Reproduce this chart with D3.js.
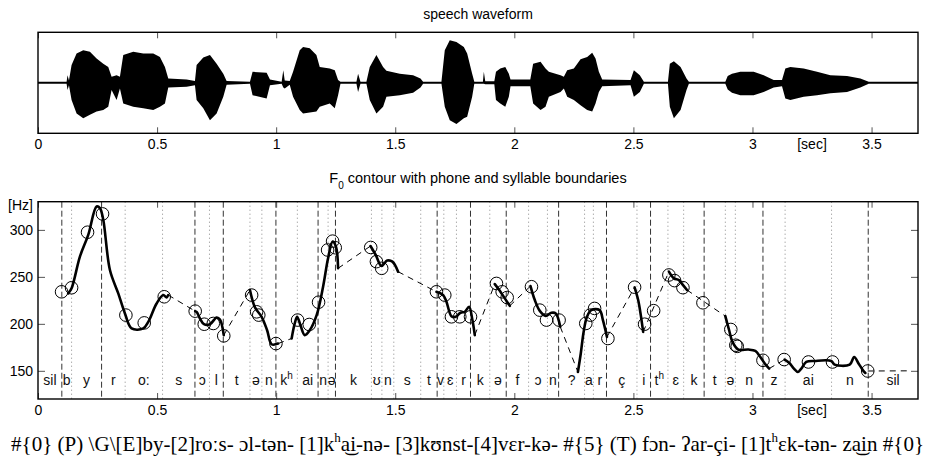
<!DOCTYPE html>
<html>
<head>
  <meta charset="UTF-8">
  <style>
    body { margin: 0; background: #fff; }
    svg { display: block; }
    text { font-family: 'Liberation Sans', Arial, Helvetica, sans-serif; fill: #000; }
    .tick line { stroke: #555; stroke-width: 1px; }
    .tick text { font-size: 14px; }
    .frame { fill: none; stroke: #000; stroke-width: 1.4px; }
    .syl { stroke: #333; stroke-width: 1px; stroke-dasharray: 6 3; }
    .phone { stroke: #888; stroke-width: 1px; stroke-dasharray: 1 3; }
    .voiced { fill: none; stroke: #000; stroke-width: 2.6px; stroke-linejoin: round; stroke-linecap: round; }
    .gap { fill: none; stroke: #000; stroke-width: 1px; stroke-dasharray: 6 5; }
    .target { fill: none; stroke: #000; stroke-width: 1px; }
    .phn { font-size: 14px; fill: #111; }
    .transcr { font-family: 'Liberation Serif', 'Times New Roman', serif; font-size: 21px; }
  </style>
</head>
<body>
<svg id="chart" width="929" height="460"></svg>
<script src="https://d3js.org/d3.v7.min.js"></script>
<script>

// ---- data ----
const xTicks = [0, 0.5, 1, 1.5, 2, 2.5, 3, 3.5];
const xTickLabels = ["0", "0.5", "1", "1.5", "2", "2.5", "3", "3.5"];
const secLabelAt = 3.25;
const hzTicks = [150, 200, 250, 300];
const hzLabelAt = 326;

// waveform envelope: time [s], upper and lower amplitude (normalised)
const wavT  = [0.000,0.120,0.124,0.130,0.141,0.162,0.190,0.218,0.246,0.274,0.295,0.309,0.330,0.344,0.358,0.400,0.442,0.484,0.512,0.533,0.547,0.624,0.659,0.666,0.694,0.722,0.750,0.778,0.792,0.890,0.901,0.960,0.974,1.023,1.030,1.036,1.057,1.071,1.099,1.113,1.141,1.169,1.183,1.225,1.246,1.260,1.270,1.337,1.344,1.354,1.379,1.393,1.421,1.449,1.463,1.519,1.575,1.606,1.617,1.694,1.708,1.729,1.757,1.788,1.802,1.823,1.832,1.868,1.872,1.878,1.916,1.923,1.941,1.962,1.977,1.984,2.067,2.079,2.110,2.131,2.145,2.194,2.208,2.222,2.250,2.278,2.306,2.327,2.341,2.355,2.369,2.488,2.502,2.527,2.544,2.645,2.653,2.670,2.698,2.723,2.733,2.886,2.896,2.914,2.949,3.005,3.047,3.089,3.124,3.138,3.159,3.215,3.271,3.327,3.397,3.453,3.488,3.695];
const wavUp = [0.02,0.02,0.16,0.05,0.37,0.61,0.68,0.65,0.51,0.40,0.33,0.125,0.16,0.125,0.58,0.65,0.61,0.61,0.54,0.33,0.09,0.07,0.04,0.37,0.53,0.58,0.40,0.19,0.04,0.02,0.23,0.21,0.07,0.02,0.26,0.05,0.04,0.23,0.68,0.75,0.72,0.58,0.33,0.30,0.26,0.06,0.02,0.02,0.19,0.02,0.02,0.33,0.58,0.33,0.25,0.19,0.16,0.09,0.02,0.02,0.68,0.89,0.85,0.75,0.61,0.19,0.02,0.02,0.23,0.03,0.03,0.23,0.30,0.33,0.19,0.07,0.07,0.40,0.44,0.30,0.23,0.16,0.125,0.26,0.30,0.49,0.54,0.63,0.51,0.23,0.07,0.06,0.26,0.16,0.02,0.02,0.40,0.45,0.33,0.09,0.02,0.02,0.14,0.19,0.23,0.23,0.16,0.06,0.06,0.30,0.33,0.30,0.23,0.16,0.14,0.09,0.02,0.02];
const wavLo = [-0.02,-0.02,-0.15,-0.05,-0.36,-0.64,-0.74,-0.67,-0.60,-0.57,-0.50,-0.15,-0.36,-0.12,-0.43,-0.50,-0.53,-0.57,-0.50,-0.43,-0.10,-0.08,-0.05,-0.36,-0.53,-0.78,-0.64,-0.29,-0.04,-0.02,-0.26,-0.33,-0.05,-0.02,-0.10,-0.12,-0.04,-0.29,-0.57,-0.64,-0.62,-0.60,-0.50,-0.43,-0.53,-0.26,-0.02,-0.02,-0.19,-0.02,-0.02,-0.36,-0.64,-0.50,-0.29,-0.26,-0.21,-0.10,-0.02,-0.02,-0.50,-0.78,-0.86,-0.74,-0.71,-0.29,-0.02,-0.02,-0.02,-0.03,-0.03,-0.36,-0.43,-0.50,-0.29,-0.07,-0.07,-0.43,-0.57,-0.50,-0.29,-0.19,-0.12,-0.29,-0.36,-0.47,-0.57,-0.60,-0.43,-0.19,-0.07,-0.05,-0.29,-0.19,-0.02,-0.02,-0.50,-0.74,-0.57,-0.15,-0.02,-0.02,-0.14,-0.21,-0.26,-0.26,-0.19,-0.10,-0.07,-0.33,-0.36,-0.29,-0.26,-0.22,-0.19,-0.10,-0.02,-0.02];

// syllable boundaries (dashed) and other phone boundaries (dotted), seconds
const syllableBounds = [0.100,0.267,0.659,0.778,0.999,1.176,1.249,1.676,1.816,1.966,2.186,2.387,2.572,2.797,3.044,3.486];
const phoneBounds = [0.141,0.366,0.523,0.720,0.890,0.940,1.089,1.218,1.400,1.444,1.494,1.607,1.704,1.757,1.897,2.060,2.139,2.295,2.332,2.515,2.645,2.711,2.886,2.928,3.137,3.332];
const phones = ["sil","b","y","r","o:","s","ɔ","l","t","ə","n","kʰ","ai","n","ə","k","ʊ","n","s","t","v","ɛ","r","k","ə","f","ɔ","n","?","a","r","ç","i","tʰ","ɛ","k","t","ə","n","z","ai","n","sil"];

// voiced F0 stretches [s, Hz]
const f0Voiced = [
  [[0.127,232.4],[0.141,237.8],[0.176,271.5],[0.211,294.7],[0.246,324.9],[0.260,323.2],[0.274,310.7],[0.302,257.3],[0.337,232.4],[0.365,211.1],[0.393,195.1],[0.442,195.1],[0.463,202.1],[0.498,221.7],[0.526,230.6],[0.540,228.2],[0.547,230.6]],
  [[0.660,213.5],[0.666,212.8],[0.680,205.7],[0.697,199.6],[0.722,199.6],[0.750,206.8],[0.764,204.6],[0.780,188.0]],
  [[0.890,236.0],[0.911,217.5],[0.939,207.5],[0.962,193.2],[0.981,178.3],[1.008,179.0]],
  [[1.065,184.4],[1.078,200.4],[1.088,207.5],[1.102,198.6],[1.120,188.0],[1.141,193.2],[1.170,209.3],[1.197,239.5],[1.218,269.8],[1.237,287.5],[1.251,282.2],[1.260,259.1]],
  [[1.396,282.8],[1.418,273.3],[1.442,261.6],[1.466,267.3],[1.488,266.2],[1.512,255.5]],
  [[1.673,234.1],[1.701,230.6],[1.715,223.5],[1.736,208.2],[1.754,207.5],[1.774,211.8],[1.792,212.8],[1.810,218.1],[1.824,204.0],[1.834,188.0]],
  [[1.918,242.3],[1.939,235.2],[1.960,227.1],[1.981,219.2]],
  [[2.068,240.2],[2.086,225.3],[2.107,213.8],[2.132,208.5],[2.156,211.8],[2.174,211.1],[2.193,196.8]],
  [[2.267,148.8],[2.279,168.4],[2.291,191.4],[2.305,207.5],[2.323,214.6],[2.358,214.6],[2.372,204.0],[2.389,186.1]],
  [[2.505,238.8],[2.520,225.3],[2.531,209.3],[2.541,191.4]],
  [[2.649,255.5],[2.670,248.4],[2.691,246.6],[2.705,242.3],[2.725,236.0]],
  [[2.886,208.2],[2.902,193.2],[2.916,180.8],[2.941,172.6],[2.983,172.6],[3.012,171.1],[3.033,164.7],[3.054,157.0],[3.070,152.4]],
  [[3.135,162.0],[3.155,158.3],[3.174,152.4],[3.191,148.8],[3.205,152.4],[3.226,159.4],[3.261,160.5],[3.331,160.5],[3.345,156.6],[3.408,156.6],[3.427,164.7],[3.446,157.6],[3.464,150.5],[3.474,147.7]]
];
const f0Tail = [[3.484,149.8],[3.668,150.0]];

// target points (circles) [s, Hz]
const targets = [[0.099,234.1],[0.141,238.4],[0.208,297.5],[0.271,317.0],[0.369,209.3],[0.446,201.0],[0.530,228.8],[0.660,213.5],[0.698,199.6],[0.736,200.4],[0.780,187.2],[0.897,230.6],[0.918,212.8],[0.927,209.3],[0.999,179.0],[1.090,204.0],[1.139,199.3],[1.178,223.0],[1.216,278.6],[1.237,288.0],[1.248,281.0],[1.397,281.3],[1.421,266.2],[1.443,259.1],[1.673,234.1],[1.708,230.6],[1.736,207.5],[1.771,207.5],[1.816,207.5],[1.925,243.0],[1.949,234.1],[1.970,228.0],[2.072,239.5],[2.107,214.6],[2.135,204.0],[2.188,204.0],[2.300,200.4],[2.319,209.3],[2.337,216.4],[2.393,184.4],[2.505,239.0],[2.547,199.6],[2.585,214.0],[2.649,252.0],[2.673,246.0],[2.708,238.5],[2.792,222.4],[2.909,194.0],[2.930,177.2],[2.936,176.0],[3.044,161.2],[3.133,162.0],[3.235,159.4],[3.336,159.4],[3.484,149.8]];

const transcription = "#{0} (P) \\G\\[E]by-[2]roːs- ɔl-tən- [1]kʰa͜i-nə- [3]kʊnst-[4]vɛr-kə- #{5} (T) fɔn- ʔar-çi- [1]tʰɛk-tən- za͜in #{0}";

// ---- layout ----
const svg = d3.select("#chart");
const left = 38, right = 918;
const top1 = 32.3, bot1 = 133.3;
const top2 = 201.7, bot2 = 399;

let x = d3.scaleLinear().domain([0, 3.695]).range([left, right]);
let yWav = d3.scaleLinear().domain([-1.055, 1.055]).range([bot1, top1]);
let yHz = d3.scaleLinear().domain([120, 330]).range([bot2, top2]);

// writes a label, turning "ʰ" into a raised h (rise in px)
function addLabel(sel, str, supSize, rise) {
  str.split("ʰ").forEach((part, i) => {
    if (i > 0) {
      sel.append("tspan").attr("dy", -rise).attr("font-size", supSize).text("h");
      sel.append("tspan").attr("dy", rise).text(part);
    } else {
      sel.append("tspan").text(part);
    }
  });
}

function xAxes(g, yTop, yBot) {
  g.append("g").attr("transform", "translate(0," + yTop + ")")
    .call(d3.axisTop(x).tickValues(xTicks).tickSizeInner(-6).tickSizeOuter(0).tickFormat(""))
    .call(a => a.select(".domain").remove());
  let b = g.append("g").attr("transform", "translate(0," + yBot + ")")
    .call(d3.axisBottom(x).tickValues(xTicks).tickSizeInner(-6).tickSizeOuter(0).tickPadding(6)
      .tickFormat((d, i) => xTickLabels[i]))
    .call(a => a.select(".domain").remove());
  b.append("text")
    .attr("x", x(secLabelAt)).attr("y", 6).attr("dy", "0.71em")
    .attr("text-anchor", "middle").attr("font-size", 14).text("[sec]");
}

// ---- top panel: waveform ----
svg.append("text").attr("x", (left + right) / 2).attr("y", 19)
  .attr("text-anchor", "middle").attr("font-size", 14).text("speech waveform");

let wav = wavT.map((t, i) => ({t: t, up: wavUp[i], lo: wavLo[i]}));
svg.append("path")
  .datum(wav)
  .attr("fill", "#000")
  .attr("d", d3.area().x(d => x(d.t)).y0(d => yWav(d.lo)).y1(d => yWav(d.up)));

xAxes(svg.append("g"), top1, bot1);
svg.append("rect").attr("class", "frame")
  .attr("x", left).attr("y", top1).attr("width", right - left).attr("height", bot1 - top1);

// ---- bottom panel: F0 contour ----
let ttl = svg.append("text").attr("x", (left + right) / 2).attr("y", 183)
  .attr("text-anchor", "middle").attr("font-size", 14.5);
ttl.append("tspan").text("F");
ttl.append("tspan").attr("dy", 6).attr("font-size", 10).text("0");
ttl.append("tspan").attr("dy", -6).text(" contour with phone and syllable boundaries");

let p = svg.append("g");

p.selectAll(".phone").data(phoneBounds).enter().append("line")
  .attr("class", "phone")
  .attr("x1", d => x(d)).attr("x2", d => x(d))
  .attr("y1", top2).attr("y2", bot2);

p.selectAll(".syl").data(syllableBounds).enter().append("line")
  .attr("class", "syl")
  .attr("x1", d => x(d)).attr("x2", d => x(d))
  .attr("y1", top2).attr("y2", bot2);

// phone labels centred in their segments
let edges = [0].concat(syllableBounds, phoneBounds).sort((a, b) => a - b).concat([x.domain()[1]]);
phones.forEach((ph, i) => {
  let t = p.append("text").attr("class", "phn")
    .attr("x", x((edges[i] + edges[i + 1]) / 2)).attr("y", 385)
    .attr("text-anchor", "middle");
  addLabel(t, ph, 10, 6);
});

let line = d3.line().x(d => x(d[0])).y(d => yHz(d[1]));

// dashed interpolation across unvoiced parts
let gaps = [];
for (let i = 0; i < f0Voiced.length - 1; i++) {
  gaps.push([f0Voiced[i][f0Voiced[i].length - 1], f0Voiced[i + 1][0]]);
}
gaps.push(f0Tail);
p.selectAll(".gap").data(gaps).enter().append("path")
  .attr("class", "gap").attr("d", line);

p.selectAll(".voiced").data(f0Voiced).enter().append("path")
  .attr("class", "voiced").attr("d", d3.line().curve(d3.curveCatmullRom).x(d => x(d[0])).y(d => yHz(d[1])));

p.selectAll(".target").data(targets).enter().append("circle")
  .attr("class", "target")
  .attr("cx", d => x(d[0])).attr("cy", d => yHz(d[1])).attr("r", 6.3);

xAxes(svg.append("g"), top2, bot2);

svg.append("g").attr("transform", "translate(" + left + ",0)")
  .call(d3.axisLeft(yHz).tickValues(hzTicks).tickSizeInner(-7).tickSizeOuter(0).tickPadding(5))
  .call(a => a.select(".domain").remove());
svg.append("g").attr("transform", "translate(" + right + ",0)")
  .call(d3.axisRight(yHz).tickValues(hzTicks).tickSizeInner(-7).tickSizeOuter(0).tickFormat(""))
  .call(a => a.select(".domain").remove());
svg.append("text").attr("x", left - 5).attr("y", yHz(hzLabelAt)).attr("dy", "0.32em")
  .attr("text-anchor", "end").attr("font-size", 14).text("[Hz]");

svg.append("rect").attr("class", "frame")
  .attr("x", left).attr("y", top2).attr("width", right - left).attr("height", bot2 - top2);

// ---- transcription line ----
let tr = svg.append("text").attr("class", "transcr")
  .attr("x", 11).attr("y", 451)
  .attr("textLength", 913).attr("lengthAdjust", "spacing");
addLabel(tr, transcription, 13, 9);

</script>
</body>
</html>
